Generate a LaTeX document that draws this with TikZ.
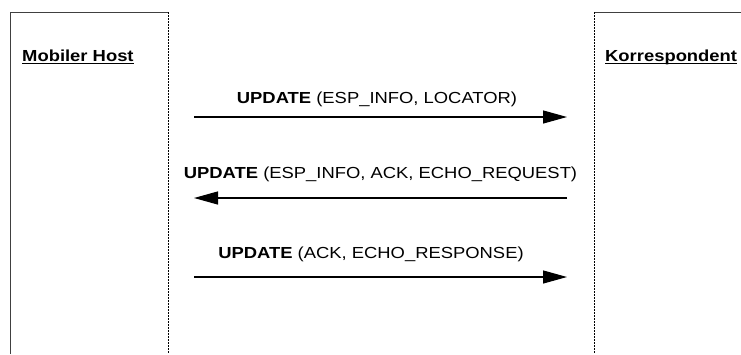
\documentclass[tikz,border=0pt]{standalone}
\usepackage{fontspec}
\setmainfont{Liberation Sans}[FakeStretch=1.15]
\usetikzlibrary{arrows.meta}
\begin{document}
\begin{tikzpicture}[x=1pt,y=-1pt,
  frame/.style={draw=black!75,line width=1pt},
  lifeline/.style={draw=black,line width=1pt,dash pattern=on 1.5pt off 1.5pt},
  party/.style={font=\fontsize{16}{18}\selectfont\bfseries,inner sep=0pt,anchor=base west},
  msg/.style={font=\fontsize{16}{18}\selectfont,inner sep=0pt,anchor=base},
  msgarrow/.style={draw=black,line width=1.2pt,-{Triangle[length=24pt,width=13pt]}}]
  \useasboundingbox (0,0) rectangle (741,354);
  % left participant frame
  \draw[frame] (10,354) -- (10,12) -- (168,12);
  \draw[lifeline] (168,12) -- (168,354);
  % right participant frame
  \draw[frame] (594,12) -- (741,12);
  \draw[lifeline] (594,12) -- (594,354);
  % participant names, underlined
  \node[party] (mh) at (22,61) {Mobiler Host};
  \node[party] (kr) at (605,61) {Korrespondent};
  \draw[line width=1.3pt] ([yshift=-2.5pt]mh.base west) -- ([yshift=-2.5pt]mh.base east);
  \draw[line width=1.3pt] ([yshift=-2.5pt]kr.base west) -- ([yshift=-2.5pt]kr.base east);
  % message end points
  \coordinate (m1) at (194,117); \coordinate (k1) at (567,117);
  \coordinate (m2) at (194,198); \coordinate (k2) at (567,198);
  \coordinate (m3) at (194,277); \coordinate (k3) at (567,277);
  % messages
  \node[msg] (l1) at (377,103) {\textbf{UPDATE} (ESP\_INFO, LOCATOR)};
  \draw[msgarrow] (m1) -- (k1);
  \node[msg] (l2) at (380.5,178) {\textbf{UPDATE} (ESP\_INFO, ACK, ECHO\_REQUEST)};
  \draw[msgarrow] (k2) -- (m2);
  \node[msg] (l3) at (371,258) {\textbf{UPDATE} (ACK, ECHO\_RESPONSE)};
  \draw[msgarrow] (m3) -- (k3);
\end{tikzpicture}
\end{document}
